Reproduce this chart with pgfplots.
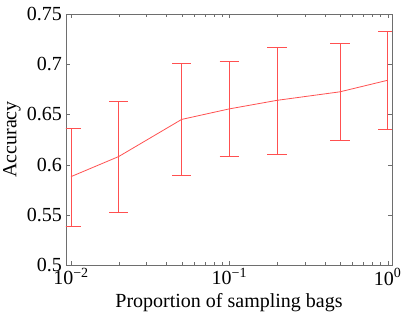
\documentclass[border=0pt]{standalone}
\usepackage{pgfplots}
\pgfplotsset{compat=1.18}
\usepackage{fontspec}
\setmainfont{Liberation Serif}
\definecolor{ebred}{RGB}{255,80,80}
\definecolor{axgray}{RGB}{110,110,110}
\newcommand{\bigfont}{\fontsize{20bp}{23bp}\selectfont}
% error bar: x, low, high, cap-left x, cap-right x
\newcommand{\ebar}[5]{%
  \addplot[draw=ebred, line width=0.8pt, mark=none, forget plot] coordinates {(#1,#2) (#1,#3)};
  \addplot[draw=ebred, line width=0.8pt, mark=none, forget plot] coordinates {(#4,#2) (#5,#2)};
  \addplot[draw=ebred, line width=0.8pt, mark=none, forget plot] coordinates {(#4,#3) (#5,#3)};
}
\begin{document}
\begin{tikzpicture}[font=\bigfont]
\begin{axis}[
  xmode=log,
  scale only axis,
  width=326bp, height=251bp,
  xmin=0.0093, xmax=1.065,
  ymin=0.5, ymax=0.75,
  ytick={0.5,0.55,0.6,0.65,0.7,0.75},
  yticklabels={0.5,0.55,0.6,0.65,0.7,0.75},
  xtick={0.01,0.1,1},
  xticklabels={10\textsuperscript{−2},10\textsuperscript{−1},10\textsuperscript{0}},
  /pgf/number format/assume math mode=true,
  axis line style={draw=axgray},
  tick style={draw=axgray},
  major tick length=4bp,
  minor tick length=2.5bp,
  tick align=inside,
  xlabel={Proportion of sampling bags},
  ylabel={Accuracy},
  xticklabel style={inner sep=0bp, anchor=north, yshift=-3bp},
  yticklabel style={inner sep=0bp, anchor=east, xshift=-4bp},
  every axis x label/.style={at={(axis description cs:0.5,0)}, anchor=base, yshift=-42bp, inner sep=0bp},
  every axis y label/.style={at={(axis description cs:0,0.5)}, rotate=90, anchor=south, yshift=45bp, inner sep=0bp},
  tick label style={font=\bigfont},
]
\ebar{0.01}{0.5385}{0.6365}{0.0087}{0.0115}
\ebar{0.02}{0.5525}{0.663}{0.0174}{0.023}
\ebar{0.05}{0.589}{0.701}{0.0435}{0.0575}
\ebar{0.1}{0.6083}{0.7025}{0.087}{0.115}
\ebar{0.2}{0.6103}{0.717}{0.174}{0.23}
\ebar{0.5}{0.6242}{0.7205}{0.435}{0.575}
\ebar{1}{0.6355}{0.7327}{0.87}{1.15}
\addplot[draw=ebred, line width=0.8pt, mark=none]
  table[x=x, y=y] {
  x     y
  0.01  0.588
  0.02  0.608
  0.05  0.645
  0.1   0.6555
  0.2   0.664
  0.5   0.6725
  1     0.684
};
\end{axis}
\pgfresetboundingbox
\path[use as bounding box] ([xshift=-66bp,yshift=-50bp]current axis.south west) rectangle ([xshift=11bp,yshift=14bp]current axis.north east);
\end{tikzpicture}
\end{document}
